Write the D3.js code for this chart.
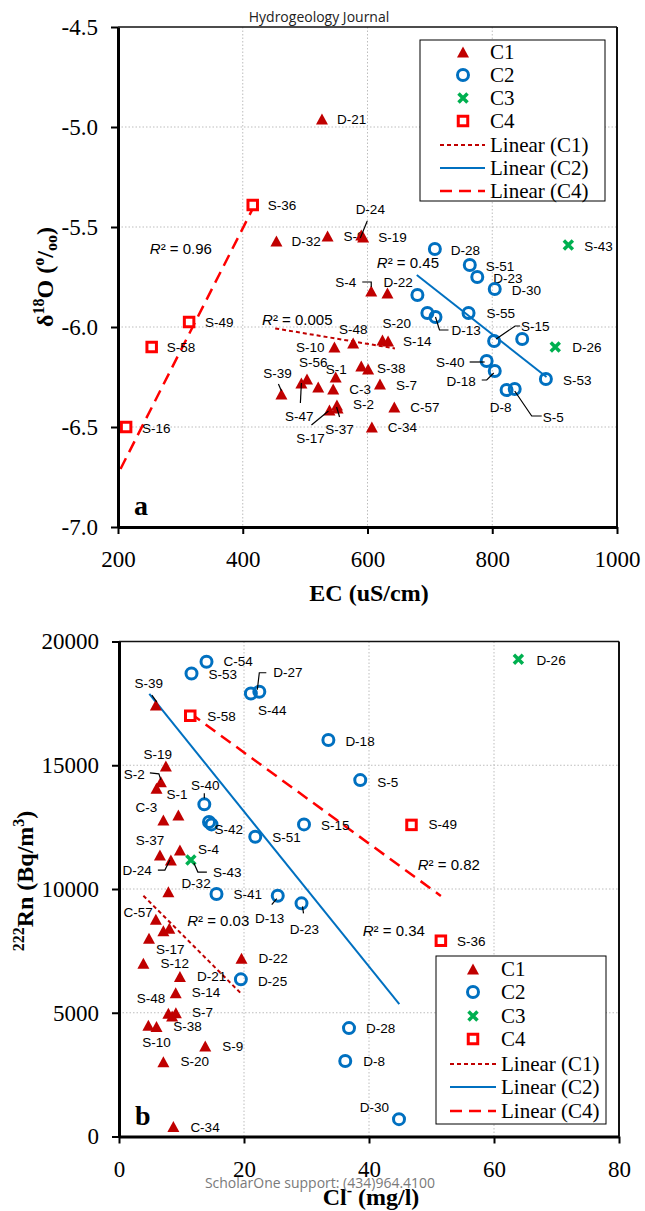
<!DOCTYPE html>
<html>
<head>
<meta charset="utf-8">
<script src="https://cdn.jsdelivr.net/npm/d3@7"></script>
<style>
  body { margin: 0; background: #fff; }
</style>
</head>
<body>
<svg id="chart" width="645" height="1211"></svg>
<script>
// ---- panel a: EC (uS/cm) vs d18O ----
var topC1Names = ["D-21","D-32","S-9","S-19","D-24","S-4","D-22","S-48","S-20","S-14","S-10","S-56","S-1","S-38","","S-39","S-47","C-3","","S-7","S-2","S-17","S-37","C-57","C-34"];
var topC1EC    = [527,454,536,593,590,606,632,577,624,633,547,503,549,601,590,462,494,545,521,620,551,539,552,643,607];
var topC1O18   = [-4.96,-5.57,-5.545,-5.55,-5.54,-5.82,-5.83,-6.08,-6.065,-6.07,-6.10,-6.26,-6.25,-6.21,-6.195,-6.335,-6.28,-6.31,-6.30,-6.285,-6.39,-6.415,-6.405,-6.40,-6.50];

var topC2Names = ["D-28","S-51","D-23","D-30","","","D-13","S-55","S-15","","S-40","D-18","S-53","D-8","S-5"];
var topC2EC    = [708,764,776,804,680,696,709,762,803,848,791,804,886,823,836];
var topC2O18   = [-5.61,-5.69,-5.75,-5.81,-5.84,-5.93,-5.95,-5.93,-6.07,-6.06,-6.17,-6.22,-6.26,-6.315,-6.31];

var topC3Names = ["S-43","D-26"];
var topC3EC    = [922,901];
var topC3O18   = [-5.59,-6.10];

var topC4Names = ["S-36","S-49","S-58","S-16"];
var topC4EC    = [416,314,254,213];
var topC4O18   = [-5.39,-5.975,-6.10,-6.50];

// trend lines (end points)
var topFitC1 = [[452,-6.007],[644,-6.107]];
var topFitC2 = [[679,-5.74],[887,-6.25]];
var topFitC4 = [[204,-6.71],[419,-5.39]];
var topR2Text = ["0.96","0.45","0.005"];
var topR2At   = [[251,-5.605],[615,-5.675],[431,-5.96]];

var topXTicks = [200,400,600,800,1000];
var topYTicks = [-7.0,-6.5,-6.0,-5.5,-5.0,-4.5];

// ---- panel b: Cl- (mg/l) vs 222Rn ----
var botC1Names = ["S-39","S-19","S-2","S-1","C-3","","S-37","D-24","S-4","D-32","C-57","S-17","","","S-12","D-21","D-22","S-14","S-48","S-7","S-38","","S-10","S-9","S-20","C-34"];
var botC1Cl    = [5.9,7.5,6.7,6.0,7.1,9.5,6.55,8.3,9.75,7.9,5.9,7.1,8.05,4.8,3.9,9.75,19.6,9.07,7.9,9.1,8.5,4.7,6.0,13.8,7.1,8.7];
var botC1Rn    = [17430,14970,14330,14070,12790,12990,11370,11170,11580,9890,8780,8310,8410,8010,7000,6460,7200,5810,4980,5000,4870,4500,4440,3660,3020,400];

var botC2Names = ["C-54","S-53","D-27","S-44","D-18","S-5","S-40","S-42","","S-51","S-15","S-41","D-13","D-23","D-25","D-28","D-8","D-30"];
var botC2Cl    = [14.0,11.6,22.45,21.1,33.5,38.6,13.65,14.8,14.4,21.8,29.6,15.6,25.4,29.2,19.5,36.8,36.2,44.8];
var botC2Rn    = [19180,18710,17970,17900,16020,14400,13420,12610,12710,12110,12610,9800,9730,9420,6350,4380,3050,700];

var botC3Names = ["D-26","S-43"];
var botC3Cl    = [63.9,11.5];
var botC3Rn    = [19280,11170];

var botC4Names = ["S-58","S-49","S-36"];
var botC4Cl    = [11.4,46.8,51.5];
var botC4Rn    = [17000,12590,7910];

var botFitC1 = [[3.9,9730],[19.6,5760]];
var botFitC2 = [[4.85,17880],[44.85,5350]];
var botFitC4 = [[11.4,17100],[51.5,9720]];
var botR2Text = ["0.03","0.82","0.34"];
var botR2At   = [[10.9,8750],[47.8,11010],[39.0,8340]];

var botXTicks = [0,20,40,60,80];
var botYTicks = [0,5000,10000,15000,20000];

// label placement: [dx, dy, anchor, leader points relative to the marker]
var topLabelPos = {
  "D-21":[15,0,"start"], "D-32":[15,0,"start"], "S-9":[16,0,"start"], "S-19":[15,0,"start"],
  "D-24":[9,-26,"middle",[[-1,3],[6,-14]]],
  "S-4":[-15,-9,"end",[[-9,-9],[0,-9],[0,-4]]],
  "D-22":[-4,-11,"start"], "S-48":[0,-14,"middle"], "S-20":[0,-17,"start"], "S-14":[15,0,"start"],
  "S-10":[-10,0,"end"], "S-56":[-8,-17,"start"], "S-1":[-10,-8,"start"], "S-38":[9,-1,"start"],
  "S-39":[-4,-21,"middle",[[-3,-10],[0,-3]]],
  "S-47":[-2,33,"middle",[[0,0],[-1,20]]],
  "C-3":[16,0,"start"], "S-7":[16,1,"start"], "S-2":[16,-1,"start"],
  "S-17":[-19,28,"middle",[[-1,1],[-18,15]]],
  "S-37":[2,21,"middle",[[-1,-1],[2,9]]],
  "C-57":[16,0,"start"], "C-34":[16,0,"start"],
  "D-28":[16,1,"start"], "S-51":[16,1,"start"], "D-23":[16,1,"start"], "D-30":[17,1,"start"],
  "D-13":[16,13,"start",[[0,0],[4,13],[13,13]]],
  "S-55":[18,0,"start"],
  "S-15":[27,-15,"start",[[2,-2],[21,-15],[26,-15]]],
  "S-40":[-22,1,"end",[[-17,1],[-2,1]]],
  "D-18":[-19,10,"end",[[-13,9],[-8,9],[-1,2]]],
  "S-53":[17,1,"start"], "D-8":[-6,17,"middle"],
  "S-5":[28,28,"start",[[0,2],[17,27],[27,27]]],
  "S-43":[16,1,"start"], "D-26":[17,0,"start"],
  "S-36":[15,0,"start"], "S-49":[16,0,"start"], "S-58":[15,0,"start"], "S-16":[16,1,"start"]
};
var botLabelPos = {
  "S-39":[-7,-22,"middle",[[-4,-10],[1,-3]]],
  "S-19":[-8,-11,"middle"],
  "S-2":[-16,-7,"end",[[-11,-9],[-2,-8],[0,-2]]],
  "S-1":[10,6,"start"], "C-3":[-6,-12,"end"], "S-37":[-10,-15,"middle"],
  "D-24":[-19,10,"end",[[-13,10],[-6,10],[-1,0]]],
  "S-4":[18,0,"start"], "D-32":[13,-8,"start"], "C-57":[-3,-7,"end"], "S-17":[7,19,"middle"],
  "S-12":[17,0,"start"], "D-21":[17,0,"start"], "D-22":[17,0,"start"], "S-14":[16,0,"start"],
  "S-48":[-3,-15,"end"], "S-7":[16,0,"start"], "S-38":[1,11,"start"], "S-10":[0,16,"middle"],
  "S-9":[17,1,"start"], "S-20":[17,0,"start"], "C-34":[17,1,"start"],
  "C-54":[17,0,"start"], "S-53":[17,1,"start"],
  "D-27":[14,-19,"start",[[-2,-2],[0,-19],[7,-19]]],
  "S-44":[7,17,"start"], "D-18":[17,1,"start"], "S-5":[17,2,"start"],
  "S-40":[1,-19,"middle",[[0,-6],[0,-11]]],
  "S-42":[3,5,"start"], "S-51":[17,1,"start"], "S-15":[17,1,"start"], "S-41":[17,1,"start"],
  "D-13":[-8,23,"middle",[[-1,3],[-6,9]]],
  "D-23":[3,26,"middle",[[1,3],[2,10]]],
  "D-25":[17,2,"start"], "D-28":[17,0,"start"], "D-8":[18,0,"start"], "D-30":[-10,-12,"end"],
  "D-26":[18,1,"start"],
  "S-43":[22,12,"start",[[3,3],[7,12],[16,12]]],
  "S-58":[17,1,"start"], "S-49":[17,0,"start"], "S-36":[16,1,"start"]
};

var serif = "'Liberation Serif','Times New Roman',serif";
var sans = "'Liberation Sans',Arial,sans-serif";
var colC1 = "#C00000", colC2 = "#0070C0", colC3 = "#00B050", colC4 = "#FF0000";

var svg = d3.select("#chart");

svg.append("text")
    .attr("x", 319).attr("y", 22)
    .attr("text-anchor", "middle")
    .attr("font-family", "'Open Sans',sans-serif").attr("font-size", 14)
    .attr("fill", "#222")
    .text("Hydrogeology Journal");

function marker(sel, type) {
  if (type == "tri") {
    sel.append("path").attr("d", "M0,-5.5L6,5.5L-6,5.5Z").attr("fill", colC1);
  } else if (type == "circ") {
    sel.append("circle").attr("r", 5.5).attr("fill", "none").attr("stroke", colC2).attr("stroke-width", 3);
  } else if (type == "cross") {
    sel.append("path").attr("d", "M-4.5,-4.5L4.5,4.5M4.5,-4.5L-4.5,4.5")
      .attr("stroke", colC3).attr("stroke-width", 3.5).attr("fill", "none");
  } else {
    sel.append("rect").attr("x", -4.75).attr("y", -4.75).attr("width", 9.5).attr("height", 9.5)
      .attr("fill", "#fff").attr("stroke", colC4).attr("stroke-width", 3);
  }
}

var fitStyle = {
  C1: {stroke: colC1, width: 2, dash: "4,3"},
  C2: {stroke: colC2, width: 2, dash: null},
  C4: {stroke: colC4, width: 2.5, dash: "12,7"}
};

function drawPanel(p) {
  var x = d3.scaleLinear().domain(p.xDomain).range([p.left, p.right]);
  var y = d3.scaleLinear().domain(p.yDomain).range([p.bottom, p.top]);
  var g = svg.append("g");

  // dotted grid
  g.append("g").selectAll("line").data(p.xTicks.slice(1, -1)).join("line")
      .attr("x1", function(d) { return x(d); }).attr("x2", function(d) { return x(d); })
      .attr("y1", p.top).attr("y2", p.bottom)
      .attr("stroke", "#bdbdbd").attr("stroke-dasharray", "1.5,2");
  g.append("g").selectAll("line").data(p.yTicks.slice(1, -1)).join("line")
      .attr("y1", function(d) { return y(d); }).attr("y2", function(d) { return y(d); })
      .attr("x1", p.left).attr("x2", p.right)
      .attr("stroke", "#bdbdbd").attr("stroke-dasharray", "1.5,2");

  // trend lines
  var line = d3.line().x(function(d) { return x(d[0]); }).y(function(d) { return y(d[1]); });
  p.fits.forEach(function(f) {
    var st = fitStyle[f.key];
    g.append("path").attr("d", line(f.pts)).attr("fill", "none")
      .attr("stroke", st.stroke).attr("stroke-width", st.width)
      .attr("stroke-dasharray", st.dash);
  });

  // R squared notes
  p.r2Text.forEach(function(t, i) {
    var tx = g.append("text")
        .attr("x", x(p.r2At[i][0])).attr("y", y(p.r2At[i][1]))
        .attr("dominant-baseline", "central")
        .attr("font-family", sans).attr("font-size", 15).attr("fill", "#000");
    tx.append("tspan").attr("font-style", "italic").text("R");
    tx.append("tspan").text("\u00b2 = " + t);
  });

  // markers, labels, leader lines
  p.groups.forEach(function(grp) {
    var pts = grp.names.map(function(n, i) { return {name: n, x: grp.xs[i], y: grp.ys[i]}; });
    pts.forEach(function(d) {
      var px = x(d.x), py = y(d.y);
      var m = g.append("g").attr("transform", "translate(" + px + "," + py + ")");
      marker(m, grp.type);
      var lp = p.labels[d.name];
      if (!d.name || !lp) return;
      if (lp[3]) {
        g.append("polyline")
          .attr("points", lp[3].map(function(q) { return (px + q[0]) + "," + (py + q[1]); }).join(" "))
          .attr("fill", "none").attr("stroke", "#000").attr("stroke-width", 1.2);
      }
      g.append("text")
          .attr("x", px + lp[0]).attr("y", py + lp[1])
          .attr("text-anchor", lp[2])
          .attr("dominant-baseline", "central")
          .attr("font-family", sans).attr("font-size", 13.5).attr("fill", "#000")
          .text(d.name);
    });
  });

  // legend
  var lg = p.legend;
  g.append("rect").attr("x", lg.x0).attr("y", lg.y0)
      .attr("width", lg.x1 - lg.x0).attr("height", lg.y1 - lg.y0)
      .attr("fill", "#fff").attr("stroke", "#000").attr("stroke-width", 1);
  var items = [["tri","C1"],["circ","C2"],["cross","C3"],["sq","C4"],
               ["C1","Linear (C1)"],["C2","Linear (C2)"],["C4","Linear (C4)"]];
  items.forEach(function(it, i) {
    var ry = lg.rows[i];
    if (fitStyle[it[0]]) {
      var st = fitStyle[it[0]];
      g.append("line").attr("x1", lg.l0).attr("x2", lg.l1).attr("y1", ry).attr("y2", ry)
        .attr("stroke", st.stroke).attr("stroke-width", st.width).attr("stroke-dasharray", st.dash);
    } else {
      marker(g.append("g").attr("transform", "translate(" + lg.sx + "," + ry + ")"), it[0]);
    }
    g.append("text").attr("x", lg.tx).attr("y", ry)
      .attr("dominant-baseline", "central")
      .attr("font-family", serif).attr("font-size", 21).attr("fill", "#000")
      .text(it[1]);
  });

  // frame top/right
  g.append("line").attr("x1", p.left).attr("x2", p.right).attr("y1", p.top).attr("y2", p.top)
      .attr("stroke", "#111").attr("stroke-width", 1.5);
  g.append("line").attr("x1", p.right).attr("x2", p.right).attr("y1", p.top).attr("y2", p.bottom)
      .attr("stroke", "#111").attr("stroke-width", 2);

  // axes
  var ya = g.append("g").attr("transform", "translate(" + p.left + ",0)")
      .call(d3.axisLeft(y).tickValues(p.yTicks).tickFormat(p.yFmt).tickSize(7).tickSizeOuter(0).tickPadding(13));
  var xa = g.append("g").attr("transform", "translate(0," + p.bottom + ")")
      .call(d3.axisBottom(x).tickValues(p.xTicks).tickFormat(function(d) { return d; }).tickSize(7).tickSizeOuter(0).tickPadding(17));
  [ya, xa].forEach(function(a) {
    a.select(".domain").attr("stroke", "#000").attr("stroke-width", 3);
    a.selectAll(".tick line").attr("stroke", "#000").attr("stroke-width", 2);
    a.selectAll(".tick text").attr("font-family", serif).attr("font-size", 23).attr("fill", "#000");
  });

  // axis titles
  var xt = g.append("text").attr("x", p.xTitleX).attr("y", p.xTitleY)
      .attr("text-anchor", "middle").attr("font-family", serif)
      .attr("font-size", 24).attr("font-weight", "bold");
  p.xTitle.forEach(function(s) { xt.append("tspan").attr("dy", s[1]).attr("font-size", s[2]).text(s[0]); });
  var yt = g.append("text")
      .attr("transform", "translate(" + p.yTitleX + "," + p.yTitleY + ") rotate(-90)")
      .attr("text-anchor", "middle").attr("font-family", serif)
      .attr("font-size", 24).attr("font-weight", "bold");
  p.yTitle.forEach(function(s) { yt.append("tspan").attr("dy", s[1]).attr("font-size", s[2]).text(s[0]); });

  // panel letter
  g.append("text").attr("x", p.left + 16).attr("y", p.bottom - 12)
      .attr("font-family", serif).attr("font-size", 28).attr("font-weight", "bold")
      .text(p.letter);
}

drawPanel({
  xDomain: [200, 1000], yDomain: [-7, -4.5],
  left: 118, right: 617, top: 27, bottom: 527,
  xTicks: topXTicks, yTicks: topYTicks,
  yFmt: function(d) { return d.toFixed(1); },
  groups: [
    {type: "tri", names: topC1Names, xs: topC1EC, ys: topC1O18},
    {type: "circ", names: topC2Names, xs: topC2EC, ys: topC2O18},
    {type: "cross", names: topC3Names, xs: topC3EC, ys: topC3O18},
    {type: "sq", names: topC4Names, xs: topC4EC, ys: topC4O18}
  ],
  fits: [{key: "C1", pts: topFitC1}, {key: "C2", pts: topFitC2}, {key: "C4", pts: topFitC4}],
  r2Text: topR2Text, r2At: topR2At,
  labels: topLabelPos,
  legend: {x0: 420, x1: 605, y0: 40, y1: 201, sx: 463, tx: 490, l0: 440, l1: 485,
           rows: [52, 75, 98, 121, 145, 168, 191]},
  xTitle: [["EC (uS/cm)", 0, 24]], xTitleX: 369, xTitleY: 601,
  yTitle: [["\u03b4", 0, 24], ["18", -9, 16], ["O (", 9, 24], ["o", -9, 16], ["/", 9, 24], ["oo", 4, 16], [")", -4, 24]],
  yTitleX: 53, yTitleY: 277,
  letter: "a"
});

drawPanel({
  xDomain: [0, 80], yDomain: [0, 20000],
  left: 119, right: 619, top: 641.5, bottom: 1136.5,
  xTicks: botXTicks, yTicks: botYTicks,
  yFmt: function(d) { return d; },
  groups: [
    {type: "tri", names: botC1Names, xs: botC1Cl, ys: botC1Rn},
    {type: "circ", names: botC2Names, xs: botC2Cl, ys: botC2Rn},
    {type: "cross", names: botC3Names, xs: botC3Cl, ys: botC3Rn},
    {type: "sq", names: botC4Names, xs: botC4Cl, ys: botC4Rn}
  ],
  fits: [{key: "C1", pts: botFitC1}, {key: "C2", pts: botFitC2}, {key: "C4", pts: botFitC4}],
  r2Text: botR2Text, r2At: botR2At,
  labels: botLabelPos,
  legend: {x0: 436, x1: 606, y0: 956, y1: 1124, sx: 473, tx: 501, l0: 450, l1: 496,
           rows: [969, 992, 1016, 1039, 1064, 1087, 1111]},
  xTitle: [["Cl", 0, 24], ["-", -9, 16], [" (mg/l)", 9, 24]], xTitleX: 371, xTitleY: 1205,
  yTitle: [["222", -9, 16], ["Rn (Bq/m", 9, 24], ["3", -9, 16], [")", 9, 24]],
  yTitleX: 33, yTitleY: 881,
  letter: "b"
});

svg.append("text")
    .attr("x", 320).attr("y", 1188)
    .attr("text-anchor", "middle")
    .attr("font-family", "'Open Sans',sans-serif").attr("font-size", 14)
    .attr("fill", "#7a7a7a")
    .text("ScholarOne support: (434)964.4100");
</script>
</body>
</html>
